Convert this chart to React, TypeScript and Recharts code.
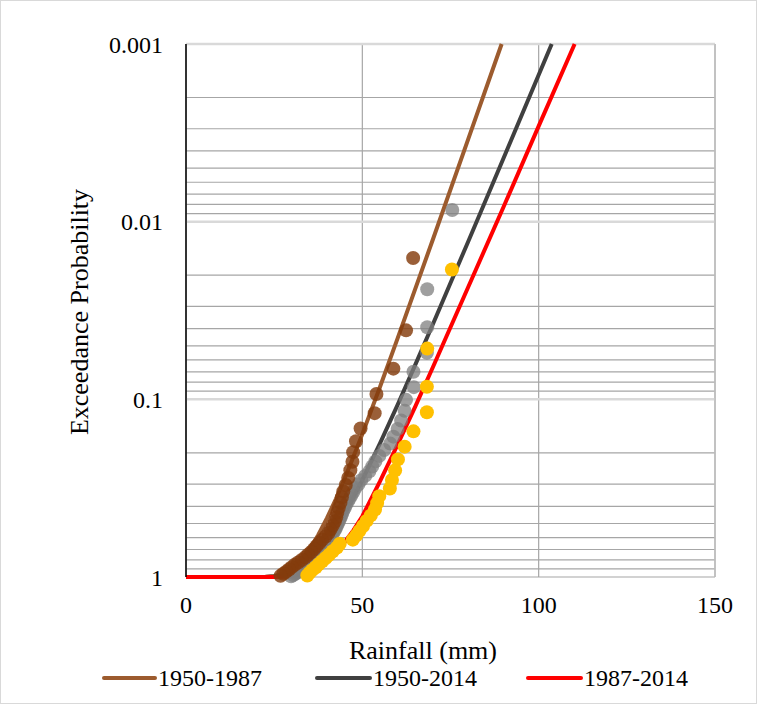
import React from "react";
import {
  ComposedChart,
  Line,
  Scatter,
  XAxis,
  YAxis,
  CartesianGrid,
  ReferenceLine,
} from "recharts";

// observed rainfall (mm) and exceedance probability, ranked from largest
const brownX = [64.4, 62.4, 58.8, 54.0, 53.5, 49.5, 48.2, 47.4, 47.2, 46.6, 46.0, 45.3, 44.6, 44.2, 43.8, 43.3, 42.9, 42.6, 42.2, 41.6, 41.0, 40.4, 39.6, 38.6, 37.8, 37.0, 36.3, 35.5, 34.6, 33.8, 32.8, 31.8, 30.8, 30.0, 29.2, 28.4, 27.6, 26.8];
const brownP = [0.016, 0.0409, 0.0672, 0.0934, 0.1196, 0.1459, 0.1721, 0.1983, 0.2246, 0.2508, 0.277, 0.3033, 0.3295, 0.3557, 0.382, 0.4082, 0.4344, 0.4607, 0.4869, 0.5131, 0.5393, 0.5656, 0.5918, 0.618, 0.6443, 0.6705, 0.6967, 0.723, 0.7492, 0.7754, 0.8017, 0.8279, 0.8541, 0.8804, 0.9066, 0.9328, 0.9591, 0.9853];

const grayX = [75.5, 68.4, 68.4, 68.3, 64.5, 64.6, 62.4, 62.0, 61.0, 60.0, 58.8, 57.9, 56.2, 54.8, 53.7, 52.8, 52.0, 50.8, 49.7, 48.9, 48.0, 47.5, 46.9, 46.4, 45.9, 45.4, 45.0, 44.6, 44.3, 44.0, 43.7, 43.4, 43.1, 42.8, 42.5, 42.2, 41.8, 41.4, 40.9, 40.4, 40.0, 39.6, 39.2, 38.8, 38.4, 38.0, 37.7, 37.4, 37.0, 36.7, 36.3, 35.9, 35.5, 35.1, 34.7, 34.3, 33.9, 33.5, 33.0, 32.5, 32.0, 31.5, 31.0, 30.4, 29.8];
const grayP = [0.0086, 0.024, 0.0393, 0.0547, 0.07, 0.0854, 0.1007, 0.1161, 0.1315, 0.1468, 0.1622, 0.1775, 0.1929, 0.2082, 0.2236, 0.239, 0.2543, 0.2697, 0.285, 0.3004, 0.3157, 0.3311, 0.3464, 0.3618, 0.3772, 0.3925, 0.4079, 0.4232, 0.4386, 0.4539, 0.4693, 0.4846, 0.5, 0.5154, 0.5307, 0.5461, 0.5614, 0.5768, 0.5921, 0.6075, 0.6228, 0.6382, 0.6536, 0.6689, 0.6843, 0.6996, 0.715, 0.7303, 0.7457, 0.761, 0.7764, 0.7918, 0.8071, 0.8225, 0.8378, 0.8532, 0.8685, 0.8839, 0.8993, 0.9146, 0.93, 0.9453, 0.9607, 0.976, 0.9914];

const yellowX = [75.4, 68.4, 68.3, 68.3, 64.5, 62.0, 60.1, 59.3, 58.4, 57.8, 54.8, 54.2, 53.6, 52.4, 51.2, 50.2, 49.2, 48.3, 47.3, 43.6, 42.8, 41.6, 40.6, 39.6, 38.6, 37.6, 36.8, 35.8, 35.0, 34.4];
const yellowP = [0.0186, 0.0518, 0.085, 0.1182, 0.1514, 0.1846, 0.2178, 0.251, 0.2842, 0.3174, 0.3506, 0.3838, 0.417, 0.4502, 0.4834, 0.5166, 0.5498, 0.583, 0.6162, 0.6494, 0.6826, 0.7158, 0.749, 0.7822, 0.8154, 0.8486, 0.8818, 0.915, 0.9482, 0.9814];

// fitted curves
const brownLineX = [0, 20, 22.5, 25, 27.5, 30, 32.5, 35, 37.5, 40, 42.5, 45, 47.5, 50, 55, 60, 70, 80, 89.5];
const brownLineP = [1, 0.9998, 0.9978, 0.9877, 0.9585, 0.8997, 0.81, 0.699, 0.58, 0.465, 0.364, 0.279, 0.21, 0.157, 0.0852, 0.0454, 0.0126, 0.00344, 0.001];

const blackLineX = [0, 20, 22.5, 25, 27.5, 30, 32.5, 35, 37.5, 40, 42.5, 45, 47.5, 50, 55, 60, 65, 70, 80, 90, 103.7];
const blackLineP = [1, 0.9998, 0.9986, 0.9934, 0.978, 0.946, 0.892, 0.817, 0.727, 0.628, 0.53, 0.438, 0.355, 0.285, 0.177, 0.1074, 0.064, 0.0378, 0.01296, 0.00441, 0.001];

const redLineX = [0, 25, 27.5, 30, 32.5, 35, 37.5, 40, 42.5, 45, 47.5, 50, 55, 60, 65, 70, 80, 90, 100, 110.2];
const redLineP = [1, 0.9994, 0.997, 0.989, 0.97, 0.935, 0.88, 0.81, 0.725, 0.635, 0.545, 0.455, 0.29, 0.18, 0.11, 0.066, 0.0234, 0.0083, 0.0029, 0.001];

const xTicks = [0, 50, 100, 150];
const yTicks = [
  0.001, 0.002, 0.003, 0.004, 0.005, 0.006, 0.007, 0.008, 0.009,
  0.01, 0.02, 0.03, 0.04, 0.05, 0.06, 0.07, 0.08, 0.09,
  0.1, 0.2, 0.3, 0.4, 0.5, 0.6, 0.7, 0.8, 0.9, 1,
];
const yLabels = [0.001, 0.01, 0.1, 1];

const seriesNames = ["1950-1987", "1950-2014", "1987-2014"];
const lineColors = ["#9C5B2E", "#404040", "#FF0000"];

const FONT = "'Liberation Serif', 'Times New Roman', serif";

const zip = (xs: number[], ps: number[]) => xs.map((x, i) => ({ x, p: ps[i] }));

const dot = (fill: string, opacity: number) => (props: any) => (
  <circle cx={props.cx} cy={props.cy} r={7} fill={fill} fillOpacity={opacity} />
);

const XTitle = () => (
  <text x={422} y={658} textAnchor="middle" fontSize={26} fontFamily={FONT} fill="#000">
    Rainfall (mm)
  </text>
);

const YTitle = () => (
  <text
    x={0}
    y={0}
    transform="translate(87,311) rotate(-90)"
    textAnchor="middle"
    fontSize={26}
    fontFamily={FONT}
    fill="#000"
  >
    Exceedance Probability
  </text>
);

const legendPos = [
  { x1: 103, x2: 154, tx: 157 },
  { x1: 316, x2: 369, tx: 372 },
  { x1: 527, x2: 580, tx: 583 },
];

function ChartLegend() {
  return (
    <svg width={757} height={50} style={{ position: "absolute", left: 0, top: 652 }}>
      {seriesNames.map((name, i) => (
        <g key={name}>
          <line
            x1={legendPos[i].x1}
            x2={legendPos[i].x2}
            y1={25}
            y2={25}
            stroke={lineColors[i]}
            strokeWidth={4}
            strokeLinecap="round"
          />
          <text x={legendPos[i].tx} y={33} fontSize={24} fontFamily={FONT} fill="#000">
            {name}
          </text>
        </g>
      ))}
    </svg>
  );
}

export default function App() {
  const lines = [
    zip(brownLineX, brownLineP),
    zip(blackLineX, blackLineP),
    zip(redLineX, redLineP),
  ];
  return (
    <div
      style={{
        position: "absolute",
        left: 0,
        top: 0,
        width: 757,
        height: 704,
        background: "#fff",
        boxSizing: "border-box",
        border: "1px solid #d9d9d9",
      }}
    >
      <ComposedChart
        width={755}
        height={702}
        margin={{ top: 43, right: 41, bottom: 0, left: 0 }}
        style={{ position: "absolute", left: 0, top: 0 }}
      >
        <CartesianGrid stroke="#a6a6a6" strokeWidth={1.2} />
        {yLabels.slice(0, 3).map((v) => (
          <ReferenceLine key={v} y={v} stroke="#d9d9d9" strokeWidth={2.5} />
        ))}
        <ReferenceLine x={150} stroke="#bfbfbf" strokeWidth={1.5} />
        <XAxis
          type="number"
          dataKey="x"
          domain={[0, 150]}
          ticks={xTicks}
          height={126}
          axisLine={false}
          tickLine={false}
          tickSize={0}
          tickMargin={19}
          tick={{ fontSize: 24, fontFamily: FONT, fill: "#000" }}
          label={<XTitle />}
        />
        <YAxis
          type="number"
          dataKey="p"
          scale="log"
          domain={[0.001, 1]}
          reversed
          ticks={yTicks}
          interval={0}
          width={185}
          axisLine={{ stroke: "#000", strokeWidth: 1.5 }}
          tickLine={false}
          tickSize={0}
          tickMargin={23}
          tickFormatter={(v: number) => (yLabels.includes(v) ? String(v) : "")}
          tick={{ fontSize: 24, fontFamily: FONT, fill: "#000" }}
          label={<YTitle />}
        />
        {lines.map((data, i) => (
          <Line
            key={seriesNames[i]}
            data={data}
            dataKey="p"
            name={seriesNames[i]}
            type="linear"
            stroke={lineColors[i]}
            strokeWidth={4}
            dot={false}
            isAnimationActive={false}
          />
        ))}
        <Scatter data={zip(grayX, grayP)} shape={dot("#7F7F7F", 0.75)} isAnimationActive={false} />
        <Scatter data={zip(brownX, brownP)} shape={dot("#843C0C", 0.82)} isAnimationActive={false} />
        <Scatter data={zip(yellowX, yellowP)} shape={dot("#FFC000", 1)} isAnimationActive={false} />
      </ComposedChart>
      <ChartLegend />
    </div>
  );
}
